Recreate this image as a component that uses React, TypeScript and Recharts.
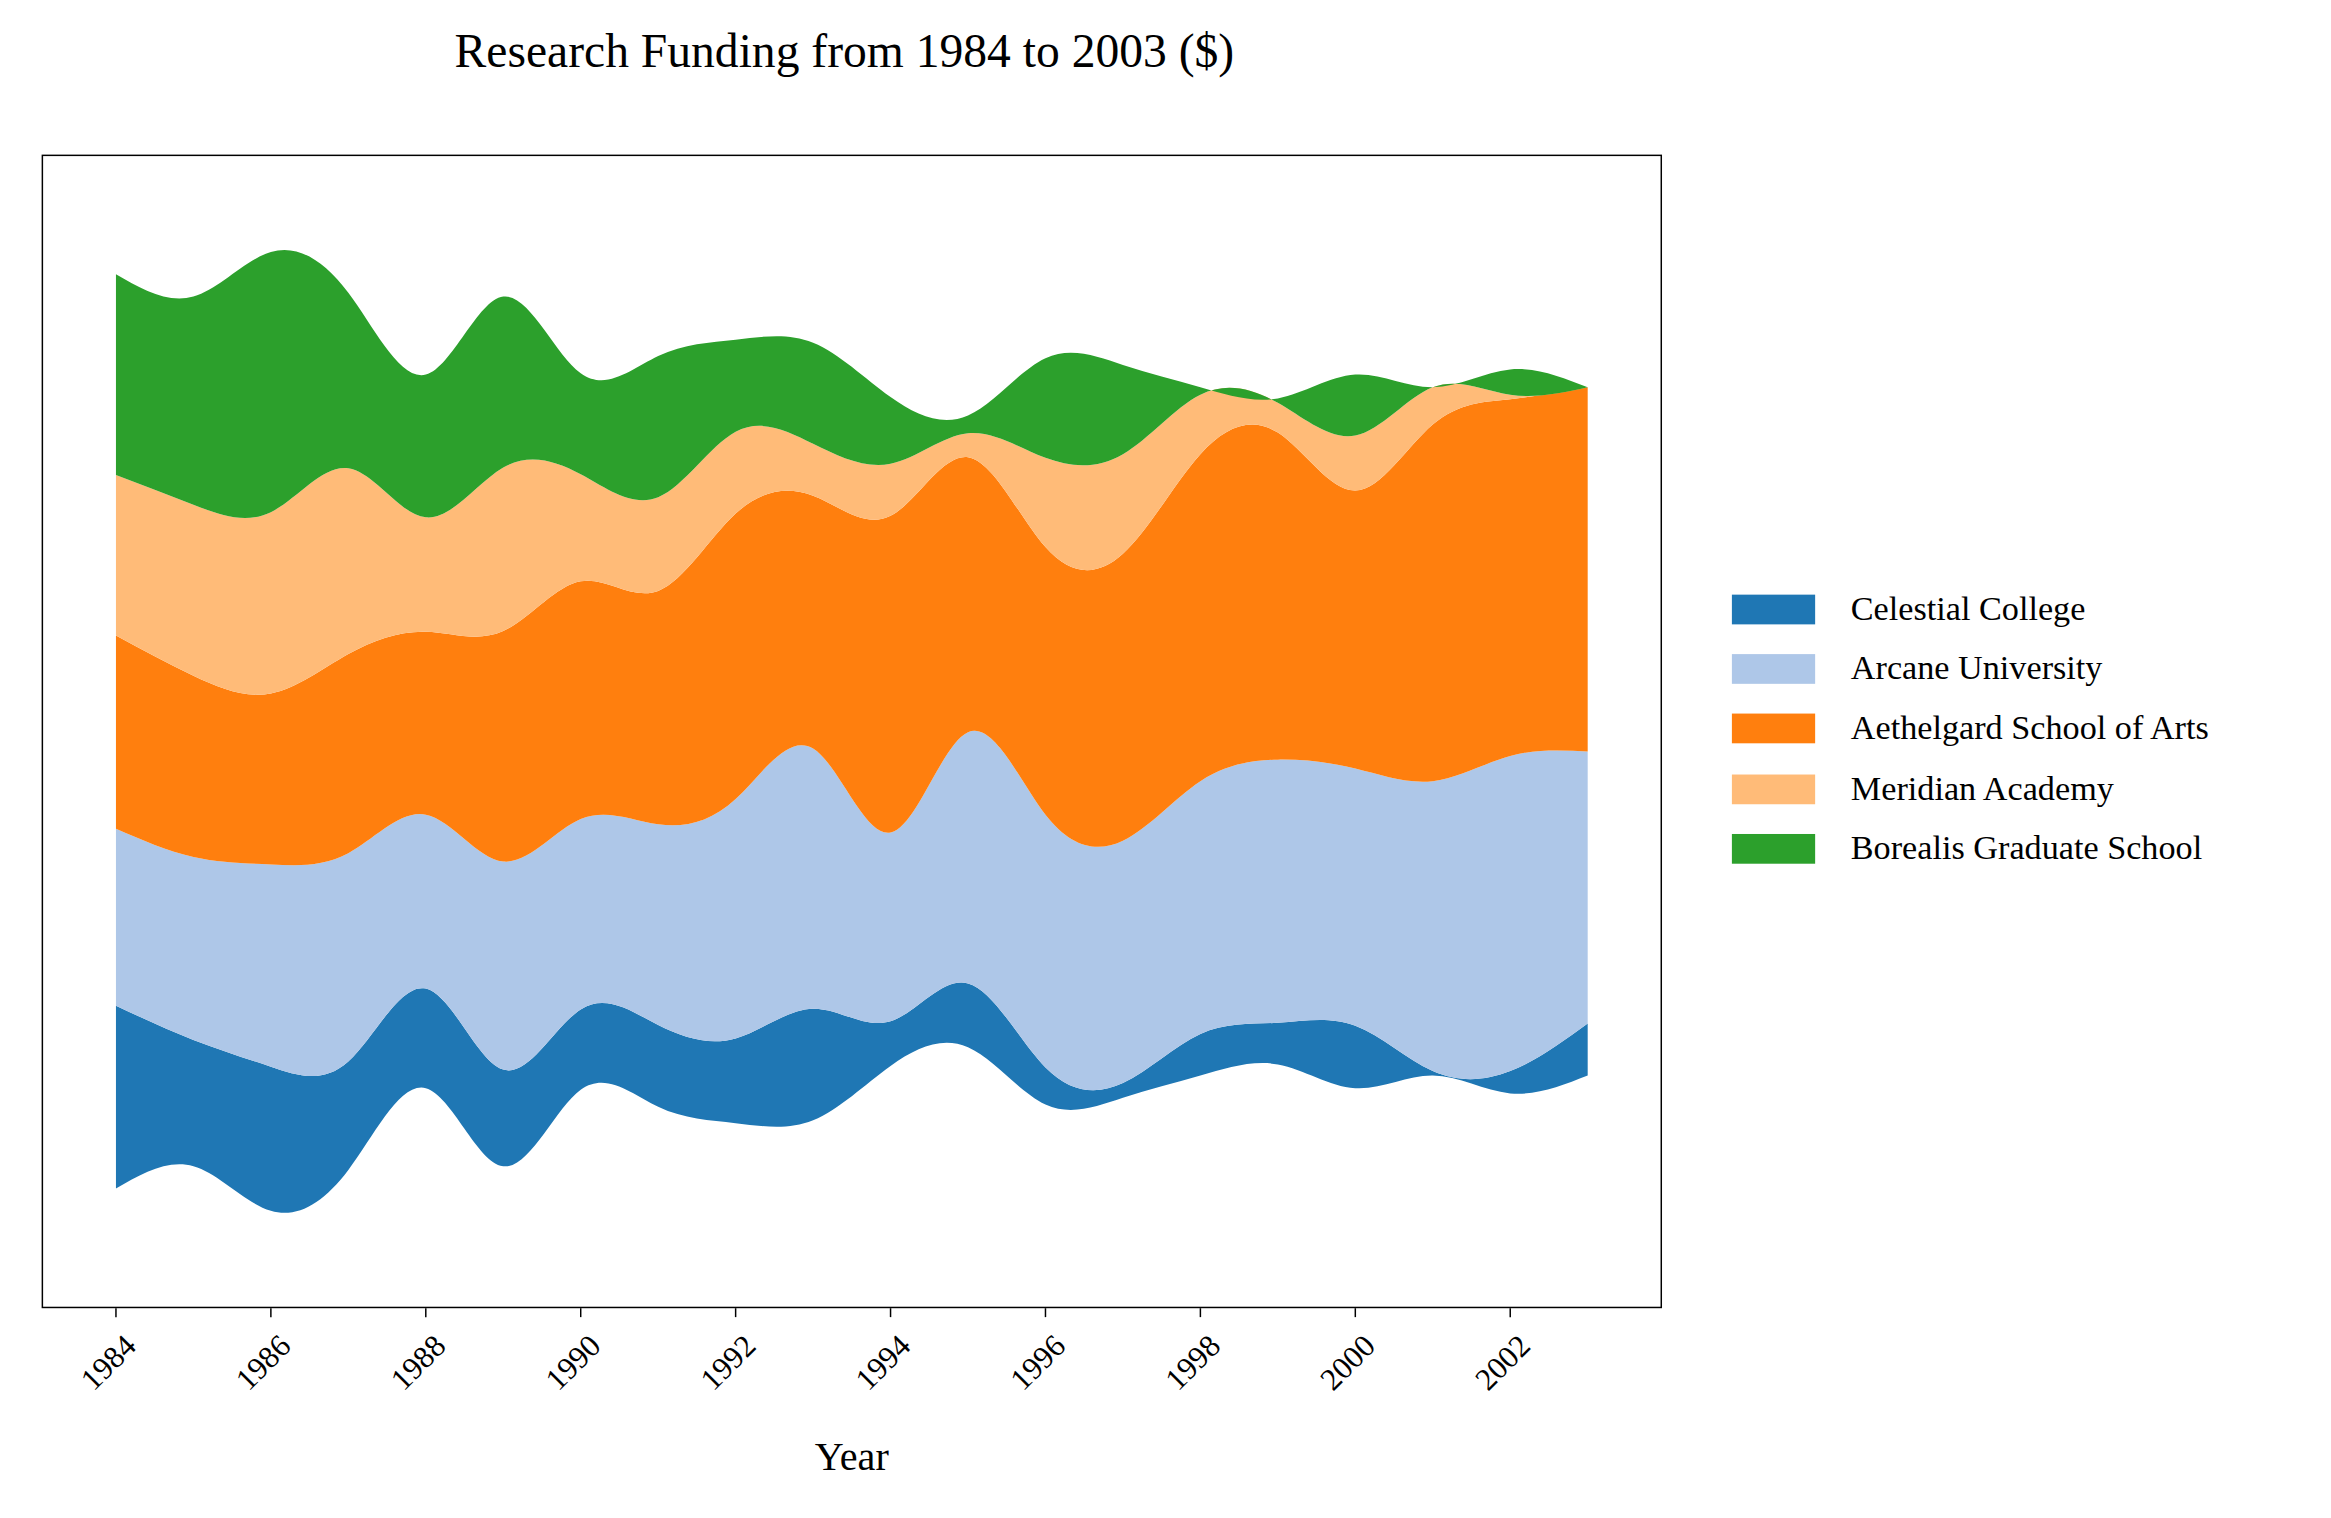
import { AreaChart, Area, XAxis, YAxis } from 'recharts'

const years = [1984, 1985, 1986, 1987, 1988, 1989, 1990, 1991, 1992, 1993, 1994, 1995, 1996, 1997, 1998, 1999, 2000, 2001, 2002, 2003]
const celestial = [123, 85, 97, 73, 67, 65, 54, 55, 57, 75, 30, 43, 25, 10, 28, 28, 42, 3, 15, 35]
const arcane = [119, 123, 136, 140, 117, 140, 128, 135, 161, 175, 127, 169, 170, 163, 170, 177, 173, 195, 212, 183]
const aethelgard = [130, 122, 115, 134, 123, 155, 160, 157, 192, 170, 213, 185, 180, 193, 220, 220, 187, 240, 240, 245]
const meridian = [108, 115, 122, 125, 77, 110, 72, 63, 55, 35, 35, 16, 60, 67, 40, 20, 37, 25, 3, 0]
const borealis = [135, 140, 175, 118, 96, 115, 68, 95, 62, 68, 45, 12, 67, 60, 5, 3, 41, 0, 17, 0]
const tickYears = [1984, 1986, 1988, 1990, 1992, 1994, 1996, 1998, 2000, 2002]

const series = [
  { key: 'celestial', name: 'Celestial College', color: '#1f77b4' },
  { key: 'arcane', name: 'Arcane University', color: '#aec7e8' },
  { key: 'aethelgard', name: 'Aethelgard School of Arts', color: '#ff7f0e' },
  { key: 'meridian', name: 'Meridian Academy', color: '#ffbb78' },
  { key: 'borealis', name: 'Borealis Graduate School', color: '#2ca02c' },
]

const data = years.map((year, i) => ({
  year,
  celestial: celestial[i],
  arcane: arcane[i],
  aethelgard: aethelgard[i],
  meridian: meridian[i],
  borealis: borealis[i],
}))

const font = '"Liberation Serif", "Times New Roman", serif'

function YearTick(props: any) {
  const { x, y, payload } = props
  return (
    <text x={x + 4} y={y + 8} transform={`rotate(-45, ${x + 4}, ${y + 8})`} textAnchor="end"
      dominantBaseline="hanging" fontFamily={font} fontSize={21} fill="#000">
      {payload.value}
    </text>
  )
}

export default function App() {
  return (
    <div style={{ position: 'absolute', left: 0, top: 0, width: 2331, height: 1518, background: '#fff', overflow: 'hidden' }}>
      <div style={{ position: 'relative', width: 1568, height: 1021, transform: 'scale(1.4866)', transformOrigin: '0 0', fontFamily: font }}>
        <div style={{ position: 'absolute', left: 0, width: 1136, top: 16, textAlign: 'center', fontSize: 32 }}>
          Research Funding from 1984 to 2003 ($)
        </div>
        <AreaChart width={1568} height={1021} data={data} stackOffset="silhouette"
          margin={{ top: 104, right: 450, left: 28, bottom: 0 }}>
          <XAxis dataKey="year" type="number" domain={[1984, 2003]} ticks={tickYears}
            padding={{ left: 50, right: 50 }} tick={<YearTick />} tickLine={{ stroke: '#000' }}
            axisLine={false} tickSize={6} height={141} />
          <YAxis hide domain={[-388, 388]} allowDataOverflow />
          {series.map((s) => (
            <Area key={s.key} dataKey={s.key} name={s.name} stackId="1" type="natural"
              fill={s.color} fillOpacity={1} stroke="none" isAnimationActive={false} />
          ))}
        </AreaChart>
        <div style={{ position: 'absolute', left: 28, top: 104, width: 1090, height: 776, border: '1.5px solid #000', boxSizing: 'border-box', pointerEvents: 'none' }} />
        <div style={{ position: 'absolute', left: 0, width: 1146, top: 965, textAlign: 'center', fontSize: 27 }}>Year</div>
        <div style={{ position: 'absolute', left: 1165, top: 390 }}>
          {series.map((s) => (
            <div key={s.key} style={{ display: 'flex', alignItems: 'center', height: 40.2, fontSize: 23 }}>
              <div style={{ width: 56, height: 20, background: s.color, marginRight: 24 }} />
              <span>{s.name}</span>
            </div>
          ))}
        </div>
      </div>
    </div>
  )
}
